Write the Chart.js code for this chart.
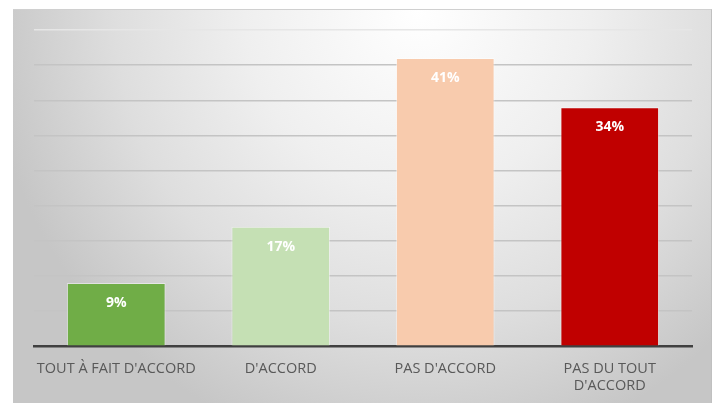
<!DOCTYPE html>
<html>
<head>
<meta charset="utf-8">
<script src="https://cdn.jsdelivr.net/npm/chart.js@4"></script>
<style>
  html, body { margin: 0; padding: 0; background: #fff; }
  #panel {
    position: absolute; left: 13px; top: 9px; width: 699px; height: 394px;
    background: radial-gradient(ellipse 62% 115% at 58% 0%, #ffffff 0%, #efefef 40%, #dedede 70%, #c6c6c6 100%);
    border-top: 1px solid #d0d0d0;
    border-right: 1px solid #c0c0c0;
    box-sizing: border-box;
  }
  #chart { display: block; }
</style>
</head>
<body>
<div id="panel"><canvas id="chart" width="699" height="394"></canvas></div>
<script>
  // Survey answers, share of respondents (%)
  const categories = ["TOUT À FAIT D'ACCORD", "D'ACCORD", "PAS D'ACCORD", ["PAS DU TOUT", "D'ACCORD"]];
  const values = [9, 17, 41, 34];
  const barColors = ['#70AD47', '#C5E0B4', '#F8CBAD', '#C00000'];
  const yTicks = [0, 5, 10, 15, 20, 25, 30, 35, 40, 45];

  const FONT = '"Open Sans", "Noto Sans", sans-serif';

  // white % labels just under the top of each bar
  const barLabels = {
    id: 'barLabels',
    afterDatasetsDraw(chart) {
      const ctx = chart.ctx;
      const meta = chart.getDatasetMeta(0);
      ctx.save();
      ctx.fillStyle = '#ffffff';
      ctx.font = 'bold 14px ' + FONT;
      ctx.textAlign = 'center';
      ctx.textBaseline = 'middle';
      meta.data.forEach((bar, i) => {
        ctx.fillText(values[i] + '%', bar.x, bar.y + 20);
      });
      ctx.restore();
    }
  };

  new Chart(document.getElementById('chart'), {
    type: 'bar',
    data: {
      labels: categories,
      datasets: [{
        data: values,
        backgroundColor: barColors,
        borderColor: 'rgba(255,255,255,0.45)',
        borderWidth: 1,
        categoryPercentage: 0.6,
        barPercentage: 1,
      }],
    },
    options: {
      responsive: false,
      animation: false,
      layout: { padding: { left: 21, right: 20, top: 20, bottom: 3 } },
      plugins: { legend: { display: false }, tooltip: { enabled: false } },
      scales: {
        x: {
          grid: { display: false },
          border: { display: true, color: '#404040', width: 2.5 },
          ticks: {
            color: '#595959',
            font: { family: FONT, size: 14.5 },
            padding: 6,
            maxRotation: 0,
            autoSkip: false,
          },
        },
        y: {
          min: 0,
          max: 45,
          afterBuildTicks: (axis) => { axis.ticks = yTicks.map(v => ({ value: v })); },
          ticks: { display: false },
          border: { display: false },
          grid: {
            drawTicks: false,
            lineWidth: 1.5,
            color: (c) => c.tick && c.tick.value === 45 ? '#e6e6e6' : '#c4c4c4',
          },
        },
      },
    },
    plugins: [barLabels],
  });
</script>
</body>
</html>
